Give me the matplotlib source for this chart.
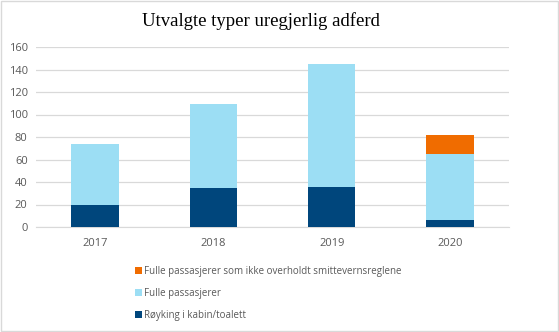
import matplotlib
matplotlib.use("Agg")
import matplotlib.pyplot as plt
import numpy as np

years = ["2017", "2018", "2019", "2020"]
royking = [20, 35, 36, 6]
fulle = [54, 74, 109, 59]
fulle_smitte = [0, 0, 0, 17]

labels = ["Røyking i kabin/toalett", "Fulle passasjerer",
          "Fulle passasjerer som ikke overholdt smittevernsreglene"]
colors = ["#00467C", "#9CDEF4", "#F06C00"]

fig = plt.figure(figsize=(5.59, 3.32), dpi=100)
ax = fig.add_axes([36 / 559, 1 - 227 / 332, 473 / 559, 180 / 332])

x = np.arange(len(years))
w = 0.4
bottom = np.zeros(len(years))
handles = []
for vals, lab, col in zip([royking, fulle, fulle_smitte], labels, colors):
    b = ax.bar(x, vals, w, bottom=bottom, color=col, label=lab, zorder=3)
    handles.append(b)
    bottom += np.array(vals)

ax.set_xlim(-0.5, len(years) - 0.5)
ax.set_ylim(0, 160)
ax.set_yticks(range(0, 161, 20))
ax.set_xticks(x)
ax.set_xticklabels(years)
ax.yaxis.grid(True, color="#d9d9d9", linewidth=0.9, zorder=0)
for s in ["top", "right", "left"]:
    ax.spines[s].set_visible(False)
ax.spines["bottom"].set_color("#d9d9d9")
ax.tick_params(length=0, labelsize=8, labelcolor="#595959", pad=6)
ax.tick_params(axis="x", pad=8)
for t in ax.get_xticklabels() + ax.get_yticklabels():
    t.set_family("Open Sans")

fig.text(0.467, 1 - 21 / 332, "Utvalgte typer uregjerlig adferd",
         ha="center", va="center", fontsize=13.5, family="Liberation Serif")

leg = fig.legend(handles[::-1], labels[::-1], loc="upper left",
                 bbox_to_anchor=(126 / 559, 1 - 257 / 332), frameon=False,
                 handlelength=0.7, handleheight=0.7, handletextpad=0.3,
                 labelspacing=1.15, prop={"family": "Open Sans", "size": 7})
for t in leg.get_texts():
    t.set_color("#595959")

fig.patches.append(plt.Rectangle((0.002, 0.003), 0.996, 0.994, transform=fig.transFigure,
                                 fill=False, edgecolor="#d9d9d9", linewidth=1))

fig.savefig("out.png", dpi=100)
